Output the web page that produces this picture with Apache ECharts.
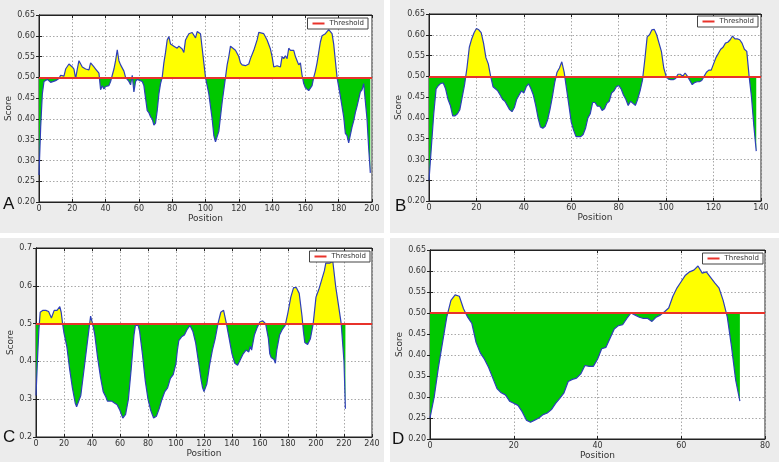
<!DOCTYPE html>
<html>
<head>
<meta charset="utf-8">
<script src="https://cdn.jsdelivr.net/npm/echarts@6/dist/echarts.min.js"></script>
<style>html,body{margin:0;padding:0;background:#fff}#c{width:779px;height:462px}</style>
</head>
<body>
<div id="c"></div>
<script>
const threshold = 0.5;

const posA = [0,1,2,3,5,7,10,12,13,14,15,16,18,19,20,21,22,23,24,25,26,28,29,30,31,32,33,34,35,36,37,38,39,40,42,43,44,45,46,47,48,49,50,51,52,53,54,55,56,57,58,59,60,62,63,64,65,66,67,68,69,70,71,72,73,74,75,76,77,78,79,81,83,84,86,87,88,90,92,94,95,96,97,98,100,102,104,105,106,107,108,110,112,113,114,115,116,118,120,121,122,124,126,127,129,131,132,133,135,137,139,140,141,143,145,146,147,148,149,150,151,153,154,155,156,157,158,159,160,162,163,164,165,166,167,168,169,170,171,172,174,175,176,177,178,179,181,183,184,185,186,187,188,189,190,191,193,194,195,196,197,198,199];
const scoreA = [0.265,0.38,0.46,0.49,0.495,0.488,0.492,0.497,0.505,0.508,0.503,0.52,0.532,0.53,0.525,0.52,0.497,0.52,0.54,0.538,0.525,0.52,0.522,0.518,0.535,0.532,0.525,0.52,0.515,0.51,0.47,0.48,0.472,0.478,0.48,0.49,0.505,0.52,0.54,0.566,0.54,0.53,0.528,0.515,0.5,0.495,0.49,0.482,0.505,0.465,0.49,0.495,0.495,0.49,0.48,0.45,0.42,0.415,0.405,0.4,0.385,0.39,0.42,0.46,0.485,0.5,0.535,0.56,0.59,0.598,0.58,0.575,0.57,0.575,0.568,0.56,0.59,0.605,0.608,0.595,0.61,0.612,0.605,0.57,0.5,0.46,0.4,0.36,0.345,0.345,0.37,0.44,0.5,0.53,0.55,0.575,0.575,0.565,0.55,0.535,0.53,0.528,0.532,0.545,0.565,0.59,0.608,0.61,0.605,0.59,0.568,0.55,0.525,0.528,0.525,0.55,0.545,0.552,0.545,0.57,0.565,0.565,0.55,0.54,0.53,0.535,0.505,0.485,0.475,0.468,0.47,0.48,0.5,0.515,0.535,0.56,0.585,0.6,0.598,0.605,0.615,0.612,0.605,0.58,0.54,0.5,0.455,0.405,0.365,0.36,0.342,0.345,0.38,0.395,0.415,0.43,0.465,0.47,0.485,0.483,0.4,0.33,0.27];

const posB = [0,1,2,3,4,5,6,7,8,9,10,11,12,13,14,15,16,17,18,19,20,21,22,23,24,25,26,27,28,29,30,31,32,33,34,35,36,37,38,39,40,41,42,43,44,45,46,47,48,49,50,51,52,53,54,55,56,57,58,59,60,61,62,63,64,65,66,67,68,69,70,71,72,73,74,75,76,77,78,79,80,81,82,83,84,85,86,87,88,89,90,91,92,93,94,95,96,97,98,99,100,101,102,103,104,105,106,107,108,109,110,111,112,113,114,115,116,117,118,119,120,121,122,123,124,125,126,127,128,129,130,131,132,133,134,135,136,137,138];
const scoreB = [0.25,0.33,0.41,0.47,0.478,0.483,0.484,0.47,0.445,0.43,0.405,0.405,0.41,0.42,0.45,0.48,0.52,0.57,0.59,0.605,0.615,0.612,0.605,0.58,0.545,0.53,0.5,0.475,0.47,0.465,0.455,0.445,0.44,0.43,0.42,0.415,0.425,0.445,0.455,0.465,0.46,0.475,0.482,0.47,0.455,0.43,0.4,0.378,0.375,0.38,0.395,0.42,0.45,0.485,0.51,0.52,0.535,0.51,0.47,0.43,0.39,0.37,0.355,0.355,0.355,0.36,0.375,0.4,0.41,0.437,0.437,0.428,0.428,0.418,0.422,0.435,0.44,0.46,0.465,0.475,0.478,0.47,0.455,0.445,0.43,0.44,0.435,0.43,0.445,0.465,0.49,0.54,0.595,0.6,0.612,0.613,0.6,0.58,0.56,0.52,0.5,0.493,0.492,0.492,0.495,0.505,0.505,0.5,0.508,0.5,0.49,0.48,0.485,0.487,0.487,0.49,0.5,0.51,0.515,0.515,0.53,0.545,0.555,0.565,0.57,0.58,0.582,0.588,0.597,0.59,0.59,0.588,0.58,0.565,0.56,0.5,0.45,0.38,0.32];

const posC = [0,1,2,3,4,5,6,7,8,9,10,11,12,13,14,15,16,17,18,19,20,22,24,26,28,29,30,32,34,36,38,39,40,41,42,44,46,48,50,51,52,54,56,58,60,62,63,64,66,68,70,71,72,73,74,76,78,80,82,84,85,86,88,90,92,94,96,98,100,101,102,103,104,106,108,110,112,114,116,118,119,120,121,122,124,126,128,130,132,134,136,138,140,142,144,146,148,150,152,153,154,156,158,160,162,164,166,167,168,170,171,172,174,176,178,180,182,184,186,188,190,191,192,194,196,198,200,202,204,206,207,208,210,212,214,216,218,220,221];
const scoreC = [0.31,0.4,0.48,0.53,0.532,0.535,0.54,0.535,0.53,0.532,0.528,0.515,0.52,0.535,0.538,0.535,0.54,0.545,0.53,0.5,0.475,0.44,0.38,0.33,0.29,0.28,0.28,0.31,0.37,0.43,0.49,0.52,0.515,0.49,0.47,0.41,0.36,0.32,0.305,0.295,0.3,0.295,0.29,0.285,0.27,0.25,0.25,0.26,0.3,0.38,0.47,0.495,0.5,0.495,0.48,0.42,0.35,0.3,0.27,0.25,0.248,0.255,0.275,0.3,0.32,0.33,0.355,0.365,0.395,0.43,0.455,0.45,0.465,0.47,0.485,0.495,0.48,0.45,0.4,0.35,0.33,0.32,0.32,0.34,0.39,0.43,0.46,0.5,0.53,0.535,0.5,0.46,0.42,0.395,0.39,0.405,0.42,0.43,0.425,0.44,0.43,0.47,0.49,0.505,0.507,0.5,0.46,0.42,0.41,0.405,0.395,0.43,0.47,0.485,0.495,0.53,0.57,0.595,0.595,0.58,0.52,0.48,0.45,0.445,0.46,0.5,0.57,0.59,0.615,0.64,0.66,0.66,0.66,0.665,0.6,0.55,0.5,0.4,0.275];

const posD = [0,1,2,3,4,5,6,7,8,9,10,11,12,13,14,15,16,17,18,19,20,21,22,23,24,25,26,27,28,29,30,31,32,33,34,35,36,37,38,39,40,41,42,43,44,45,46,47,48,49,50,51,52,53,54,55,56,57,58,59,60,61,62,63,64,65,66,67,68,69,70,71,72,73,74];
const scoreD = [0.25,0.3,0.37,0.43,0.49,0.53,0.543,0.54,0.51,0.49,0.475,0.43,0.405,0.39,0.37,0.345,0.32,0.31,0.305,0.29,0.285,0.28,0.265,0.245,0.24,0.245,0.25,0.258,0.262,0.27,0.285,0.297,0.31,0.337,0.342,0.345,0.355,0.375,0.373,0.373,0.39,0.415,0.418,0.44,0.462,0.47,0.472,0.487,0.5,0.495,0.49,0.487,0.487,0.48,0.49,0.495,0.503,0.512,0.54,0.56,0.575,0.59,0.598,0.602,0.612,0.595,0.598,0.585,0.572,0.56,0.53,0.49,0.42,0.34,0.29];

const xTicksA = [0, 200, 20], xTicksB = [0, 140, 20], xTicksC = [0, 240, 20], xTicksD = [0, 80, 20];
const yTicksA = [0.2, 0.65, 0.05], yTicksB = [0.2, 0.65, 0.05], yTicksC = [0.2, 0.7, 0.1], yTicksD = [0.2, 0.65, 0.05];
const panelLetters = ['A', 'B', 'C', 'D'];
const legendLabel = 'Threshold';

const panels = [
  {pos: posA, score: scoreA, xt: xTicksA, yt: yTicksA, dec: 2,
   grid: {left: 39, top: 15, width: 333, height: 187}, legend: {right: 411, top: 18},
   yGap: 21, xGap: 12, letter: {x: 3, y: 196}},
  {pos: posB, score: scoreB, xt: xTicksB, yt: yTicksB, dec: 2,
   grid: {left: 429, top: 14, width: 332, height: 187}, legend: {right: 21, top: 16},
   yGap: 20, xGap: 12, letter: {x: 395, y: 198}},
  {pos: posC, score: scoreC, xt: xTicksC, yt: yTicksC, dec: 1,
   grid: {left: 36, top: 248, width: 336, height: 189}, legend: {right: 409, top: 251},
   yGap: 18, xGap: 10, letter: {x: 3, y: 429}},
  {pos: posD, score: scoreD, xt: xTicksD, yt: yTicksD, dec: 2,
   grid: {left: 430, top: 250, width: 335, height: 189}, legend: {right: 16, top: 253},
   yGap: 22, xGap: 11, letter: {x: 392, y: 431}}
];

const FONT = 'DejaVu Sans';
const grid = [], xAxis = [], yAxis = [], series = [], visualMap = [], legend = [];

panels.forEach((p, i) => {
  const data = p.pos.map((x, k) => [x, p.score[k]]);
  grid.push(Object.assign({show: true, backgroundColor: '#fff', borderColor: '#222', borderWidth: 1}, p.grid));
  const tickStyle = {show: true, inside: true, length: 3, lineStyle: {color: '#222', width: 1}};
  xAxis.push({
    type: 'value', gridIndex: i, min: p.xt[0], max: p.xt[1], interval: p.xt[2],
    name: 'Position', nameLocation: 'middle', nameGap: p.xGap,
    nameTextStyle: {fontFamily: FONT, fontSize: 9, color: '#333'},
    axisLine: {lineStyle: {color: '#222'}}, axisTick: tickStyle,
    axisLabel: {fontFamily: FONT, fontSize: 8, color: '#333', margin: 3},
    splitLine: {show: true, lineStyle: {color: '#a8a8a8', type: [1.5, 2], width: 1}}
  });
  xAxis.push({
    type: 'value', gridIndex: i, position: 'top', min: p.xt[0], max: p.xt[1], interval: p.xt[2],
    axisLine: {show: true, lineStyle: {color: '#222'}}, axisTick: tickStyle,
    axisLabel: {show: false}, splitLine: {show: false}
  });
  yAxis.push({
    type: 'value', gridIndex: i, min: p.yt[0], max: p.yt[1], interval: p.yt[2],
    name: 'Score', nameLocation: 'middle', nameGap: p.yGap,
    nameTextStyle: {fontFamily: FONT, fontSize: 9, color: '#333'},
    axisLine: {show: true, lineStyle: {color: '#222'}}, axisTick: tickStyle,
    axisLabel: {fontFamily: FONT, fontSize: 8, color: '#333', margin: 4, formatter: v => v.toFixed(p.dec)},
    splitLine: {show: true, lineStyle: {color: '#a8a8a8', type: [1.5, 2], width: 1}}
  });
  yAxis.push({
    type: 'value', gridIndex: i, position: 'right', min: p.yt[0], max: p.yt[1], interval: p.yt[2],
    axisLine: {show: true, lineStyle: {color: '#222'}}, axisTick: tickStyle,
    axisLabel: {show: false}, splitLine: {show: false}
  });
  const xi = i * 2, yi = i * 2;
  const fillIdx = series.length;
  series.push({
    type: 'line', xAxisIndex: xi, yAxisIndex: yi, data: data, showSymbol: false, silent: true,
    lineStyle: {width: 0}, areaStyle: {origin: threshold, opacity: 1}, z: 1, animation: false
  });
  series.push({
    type: 'line', xAxisIndex: xi, yAxisIndex: yi, data: data, showSymbol: false, silent: true,
    lineStyle: {color: '#2e3fb8', width: 1.2}, itemStyle: {color: '#2e3fb8'}, z: 3, animation: false
  });
  series.push({
    type: 'line', name: legendLabel, xAxisIndex: xi, yAxisIndex: yi, data: [], showSymbol: false,
    color: '#e8332b', lineStyle: {color: '#e8332b'}, itemStyle: {color: '#e8332b'}, z: 4, animation: false,
    markLine: {silent: true, symbol: 'none', label: {show: false}, animation: false,
      lineStyle: {color: '#e8332b', width: 2, type: 'solid'}, data: [{yAxis: threshold}]}
  });
  visualMap.push({
    type: 'piecewise', show: false, dimension: 1, seriesIndex: fillIdx,
    pieces: [{gte: 0, lt: threshold, color: '#00c800'}, {gte: threshold, lte: 1, color: '#ffff00'}],
    outOfRange: {color: '#00c800'}
  });
  legend.push(Object.assign({
    data: [legendLabel], icon: 'rect', itemWidth: 12, itemHeight: 2, itemGap: 4,
    textStyle: {fontFamily: FONT, fontSize: 7, color: '#333'},
    borderColor: '#444', borderWidth: 1, padding: [2, 4, 2, 5], backgroundColor: '#fff',
    selectedMode: false
  }, p.legend));
});

const graphic = [
  {type: 'rect', shape: {x: 0, y: 0, width: 384, height: 233}, style: {fill: '#ececec'}, z: -10},
  {type: 'rect', shape: {x: 390, y: 0, width: 389, height: 233}, style: {fill: '#ececec'}, z: -10},
  {type: 'rect', shape: {x: 0, y: 238, width: 384, height: 224}, style: {fill: '#ececec'}, z: -10},
  {type: 'rect', shape: {x: 390, y: 238, width: 389, height: 224}, style: {fill: '#ececec'}, z: -10}
];
panels.forEach((p, i) => {
  graphic.push({type: 'text', x: p.letter.x, y: p.letter.y, z: 10,
    style: {text: panelLetters[i], fontFamily: 'Liberation Sans', fontSize: 17, fill: '#111'}});
});

const chart = echarts.init(document.getElementById('c'), null, {renderer: 'canvas'});
chart.setOption({
  animation: false, backgroundColor: '#fff',
  grid, xAxis, yAxis, series, visualMap, legend, graphic
});
</script>
</body>
</html>
